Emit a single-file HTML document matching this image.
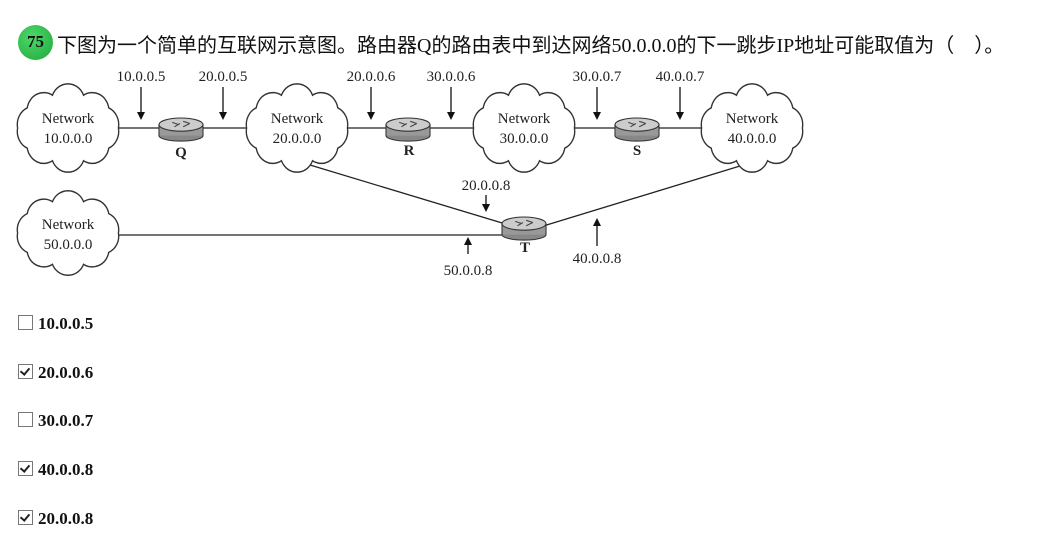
<!DOCTYPE html>
<html><head><meta charset="utf-8">
<style>
body{margin:0;width:1050px;height:543px;background:#fff;position:relative;overflow:hidden;font-family:"Liberation Serif","Noto Serif CJK SC",serif}
.t{position:absolute;left:57px;top:29px;font-family:"Liberation Serif","Noto Sans CJK SC",sans-serif;font-size:20px;color:#111;white-space:nowrap}
.num{position:absolute;left:18px;top:25px;width:35px;height:35px;border-radius:50%;background:radial-gradient(circle at 40% 35%,#4fd86a,#1fa83a);color:#111;font:bold 17px "Liberation Serif",serif;text-align:center;line-height:34px}
.opt{position:absolute;left:18px;font:bold 17px "Liberation Serif",serif;color:#111}
.cb{display:inline-block;width:13px;height:13px;border:1px solid #777;vertical-align:-1px;margin-right:5px;position:relative;background:#fff}
.cb.c:after{content:"";position:absolute;left:3px;top:1px;width:4px;height:7px;border:solid #222;border-width:0 2px 2px 0;transform:rotate(40deg)}
svg{position:absolute;left:0;top:0}
</style></head><body>
<div class="num">75</div>
<div class="t">下图为一个简单的互联网示意图。路由器Q的路由表中到达网络50.0.0.0的下一跳步IP地址可能取值为（　）。</div>
<svg width="1050" height="300" viewBox="0 0 1050 300" font-family="Liberation Serif, serif">
<defs>
<path id="cl" d="M48,0 A16,16 0 0 1 38.8,17.6 A16,16 0 0 1 14.8,28.5 A16,16 0 0 1 -14.8,28.5 A16,16 0 0 1 -38.8,17.6 A16,16 0 0 1 -48,0 A16,16 0 0 1 -38.8,-17.6 A16,16 0 0 1 -14.8,-28.5 A16,16 0 0 1 14.8,-28.5 A16,16 0 0 1 38.8,-17.6 A16,16 0 0 1 48,0Z" fill="#fff" stroke="#333" stroke-width="1.3"/>
<linearGradient id="rg" x1="0" y1="0" x2="0" y2="1"><stop offset="0" stop-color="#bbb"/><stop offset="1" stop-color="#777"/></linearGradient>
<g id="rt"><rect x="-20" y="-4" width="40" height="10" fill="url(#rg)" stroke="#333"/><ellipse cx="0" cy="6" rx="20" ry="5" fill="#888" stroke="#333"/><rect x="-19.5" y="-3" width="39" height="9" fill="#999"/><ellipse cx="0" cy="-4" rx="20" ry="6" fill="#ccc" stroke="#333"/><path d="M-8,-6 l6,2 M2,-2 l6,-3 M-6,-2 l5,-3 M2,-7 l6,2" stroke="#444" stroke-width="1"/></g>
</defs>
<g stroke="#222" stroke-width="1.3" fill="none">
<line x1="118" y1="128" x2="248" y2="128"/>
<line x1="346" y1="128" x2="476" y2="128"/>
<line x1="574" y1="128" x2="704" y2="128"/>
<line x1="310" y1="165" x2="512" y2="226"/>
<line x1="740" y1="166" x2="540" y2="227"/>
<line x1="118" y1="235" x2="506" y2="235"/>
</g>
<use href="#cl" transform="translate(68,128) scale(1.05,1.15)"/>
<use href="#cl" transform="translate(297,128) scale(1.05,1.15)"/>
<use href="#cl" transform="translate(524,128) scale(1.05,1.15)"/>
<use href="#cl" transform="translate(752,128) scale(1.05,1.15)"/>
<use href="#cl" transform="translate(68,233) scale(1.05,1.1)"/>
<use href="#rt" transform="translate(181,129) scale(1.1)"/>
<use href="#rt" transform="translate(408,129) scale(1.1)"/>
<use href="#rt" transform="translate(637,129) scale(1.1)"/>
<use href="#rt" transform="translate(524,228) scale(1.1)"/>
<g font-size="15" fill="#222" text-anchor="middle">
<text x="68" y="123">Network</text><text x="68" y="143">10.0.0.0</text>
<text x="297" y="123">Network</text><text x="297" y="143">20.0.0.0</text>
<text x="524" y="123">Network</text><text x="524" y="143">30.0.0.0</text>
<text x="752" y="123">Network</text><text x="752" y="143">40.0.0.0</text>
<text x="68" y="229">Network</text><text x="68" y="249">50.0.0.0</text>
<text x="141" y="81">10.0.0.5</text><text x="223" y="81">20.0.0.5</text>
<text x="371" y="81">20.0.0.6</text><text x="451" y="81">30.0.0.6</text>
<text x="597" y="81">30.0.0.7</text><text x="680" y="81">40.0.0.7</text>
<text x="486" y="190">20.0.0.8</text>
<text x="468" y="275">50.0.0.8</text>
<text x="597" y="263">40.0.0.8</text>
<g font-weight="bold"><text x="181" y="157">Q</text><text x="409" y="155">R</text><text x="637" y="155">S</text><text x="525" y="252">T</text></g>
</g>
<g stroke="#111" stroke-width="1.3">
<line x1="141" y1="87" x2="141" y2="113"/><line x1="223" y1="87" x2="223" y2="113"/>
<line x1="371" y1="87" x2="371" y2="113"/><line x1="451" y1="87" x2="451" y2="113"/>
<line x1="597" y1="87" x2="597" y2="113"/><line x1="680" y1="87" x2="680" y2="113"/>
<line x1="486" y1="195" x2="486" y2="205"/>
<line x1="468" y1="254" x2="468" y2="243"/>
<line x1="597" y1="246" x2="597" y2="225"/>
</g>
<g fill="#111">
<path d="M137,112 h8 l-4,8z"/><path d="M219,112 h8 l-4,8z"/>
<path d="M367,112 h8 l-4,8z"/><path d="M447,112 h8 l-4,8z"/>
<path d="M593,112 h8 l-4,8z"/><path d="M676,112 h8 l-4,8z"/>
<path d="M482,204 h8 l-4,8z"/>
<path d="M464,245 h8 l-4,-8z"/>
<path d="M593,226 h8 l-4,-8z"/>
</g>
</svg>
<div class="opt" style="top:314px"><span class="cb"></span>10.0.0.5</div>
<div class="opt" style="top:363px"><span class="cb c"></span>20.0.0.6</div>
<div class="opt" style="top:411px"><span class="cb"></span>30.0.0.7</div>
<div class="opt" style="top:460px"><span class="cb c"></span>40.0.0.8</div>
<div class="opt" style="top:509px"><span class="cb c"></span>20.0.0.8</div>
</body></html>
